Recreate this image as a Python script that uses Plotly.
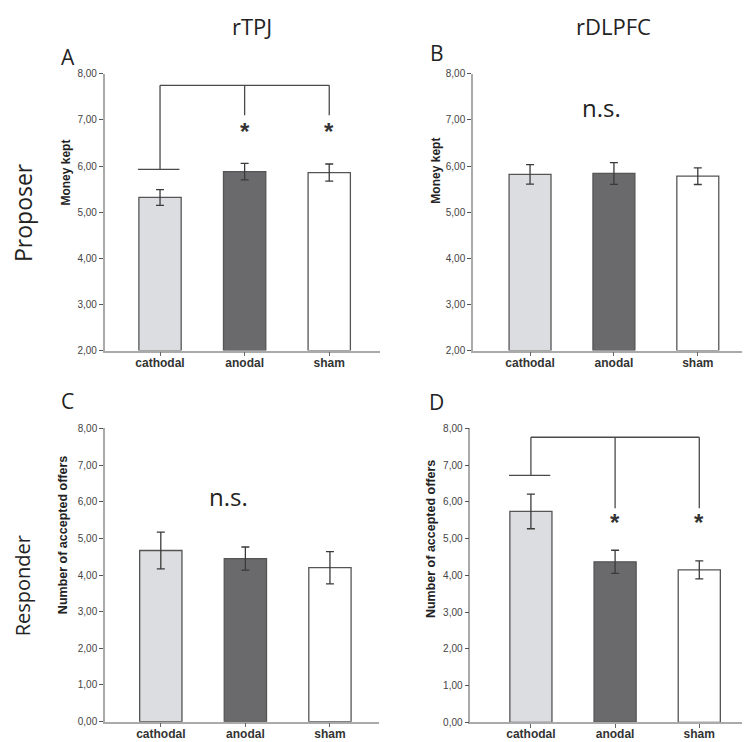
import plotly.graph_objects as go

# ---------------- data ----------------
conditions = ["cathodal", "anodal", "sham"]
bar_colors = ["#dcdde1", "#6a6a6d", "#ffffff"]

# A: rTPJ - Proposer (money kept)
rtpj_proposer_mean = [5.32, 5.88, 5.86]
rtpj_proposer_err = [0.17, 0.18, 0.185]
# B: rDLPFC - Proposer (money kept)
rdlpfc_proposer_mean = [5.82, 5.84, 5.78]
rdlpfc_proposer_err = [0.21, 0.235, 0.18]
# C: rTPJ - Responder (number of accepted offers)
rtpj_responder_mean = [4.67, 4.45, 4.20]
rtpj_responder_err = [0.50, 0.315, 0.44]
# D: rDLPFC - Responder (number of accepted offers)
rdlpfc_responder_mean = [5.74, 4.37, 4.15]
rdlpfc_responder_err = [0.47, 0.315, 0.245]

proposer_ticks = [2, 3, 4, 5, 6, 7, 8]
responder_ticks = [0, 1, 2, 3, 4, 5, 6, 7, 8]

# significance brackets (levels on the value axis)
bracket_A = dict(top=7.75, cathodal_leg=5.93, other_legs=7.10, star=6.69)
bracket_D = dict(top=7.76, cathodal_leg=6.72, other_legs=5.83, star=5.37)

W, H = 750, 742


def px_x(x):
    return x / W


def px_y(y):
    return 1 - y / H


panels = [
    dict(key="", mean=rtpj_proposer_mean, err=rtpj_proposer_err, ticks=proposer_ticks,
         xdom=(96.7, 372), ydom=(61.7, 342.7), xr=(-0.654, 2.60), yr=(2, 8)),
    dict(key="2", mean=rdlpfc_proposer_mean, err=rdlpfc_proposer_err, ticks=proposer_ticks,
         xdom=(465, 746), ydom=(61.7, 342.7), xr=(-0.68, 2.67), yr=(2, 8)),
    dict(key="3", mean=rtpj_responder_mean, err=rtpj_responder_err, ticks=responder_ticks,
         xdom=(97, 371), ydom=(421.7, 719.3), xr=(-0.66, 2.58), yr=(0, 8)),
    dict(key="4", mean=rdlpfc_responder_mean, err=rdlpfc_responder_err, ticks=responder_ticks,
         xdom=(462.3, 746), ydom=(421.7, 720), xr=(-0.72, 2.65), yr=(0, 8)),
]

fig = go.Figure()
xs = list(range(len(conditions)))
layout = dict(width=W, height=H, margin=dict(l=0, r=0, t=0, b=0),
              plot_bgcolor="white", paper_bgcolor="white", showlegend=False,
              separators=",.")

for p in panels:
    k = p["key"]
    fig.add_trace(go.Bar(
        x=xs, y=[m - p["yr"][0] for m in p["mean"]], base=p["yr"][0], width=0.5,
        marker=dict(color=bar_colors, line=dict(color="#555555", width=1.3)),
        error_y=dict(type="data", array=p["err"], color="#3a3a3a", thickness=1.3, width=4),
        xaxis="x" + k, yaxis="y" + k, hoverinfo="skip"))
    layout["xaxis" + k] = dict(
        domain=[px_x(p["xdom"][0]), px_x(p["xdom"][1])], range=list(p["xr"]),
        anchor="y" + k, tickvals=xs, ticktext=conditions, ticks="outside", ticklen=4,
        tickcolor="#666666", tickwidth=1.2, showline=True, linecolor="#aaaaaa", linewidth=1.5,
        showgrid=False, zeroline=False, ticklabelstandoff=-4,
        tickfont=dict(family="Liberation Sans", size=12, color="#333333", weight="bold"))
    layout["yaxis" + k] = dict(
        domain=[px_y(p["ydom"][1]), px_y(p["ydom"][0])], range=list(p["yr"]),
        anchor="x" + k, tickvals=p["ticks"], tickformat=".2f", ticks="outside", ticklen=4,
        tickcolor="#555555", tickwidth=1.2, showline=True, linecolor="#aaaaaa", linewidth=1.5,
        showgrid=False, zeroline=False, ticklabelstandoff=0,
        tickfont=dict(family="Liberation Sans", size=10, color="#444444"))

fig.update_layout(**layout)

# significance brackets
def add_bracket(xref, yref, b):
    line = dict(color="#4a4a4a", width=1.3)
    common = dict(xref=xref, yref=yref, layer="above", line=line, type="line")
    fig.add_shape(x0=xs[0], x1=xs[2], y0=b["top"], y1=b["top"], **common)
    fig.add_shape(x0=xs[0], x1=xs[0], y0=b["top"], y1=b["cathodal_leg"], **common)
    fig.add_shape(x0=xs[0] - 0.26, x1=xs[0] + 0.23, y0=b["cathodal_leg"], y1=b["cathodal_leg"], **common)
    for xi in xs[1:]:
        fig.add_shape(x0=xi, x1=xi, y0=b["top"], y1=b["other_legs"], **common)
        fig.add_annotation(x=xi, y=b["star"], xref=xref, yref=yref, text="*", showarrow=False,
                           yshift=3, font=dict(family="Liberation Sans", size=24,
                                               color="#333333", weight="bold"))

add_bracket("x", "y", bracket_A)
add_bracket("x4", "y4", bracket_D)

def label(text, x, y, size, angle=0, family="Open Sans", weight="normal", color="#222222"):
    fig.add_annotation(x=px_x(x), y=px_y(y), xref="paper", yref="paper", text=text,
                       showarrow=False, textangle=angle, xanchor="center", yanchor="middle",
                       font=dict(family=family, size=size, color=color, weight=weight))

label("rTPJ", 244, 13, 22)
label("rDLPFC", 605.5, 13, 22)
label("A", 59.5, 45, 21)
label("B", 429, 41, 21)
label("C", 59, 394, 21)
label("D", 429, 395, 21)
label("Proposer", 15, 203, 23, angle=-90)
label("Responder", 14, 582, 20, angle=-90)
label("n.s.", 593, 96, 24)
label("n.s.", 220, 491, 24)
label("Money kept", 58, 162, 12, angle=-90, family="Liberation Sans", weight="bold")
label("Money kept", 428, 160, 12, angle=-90, family="Liberation Sans", weight="bold")
label("Number of accepted offers", 55, 530, 12.5, angle=-90, family="Liberation Sans", weight="bold")
label("Number of accepted offers", 423, 534, 12.5, angle=-90, family="Liberation Sans", weight="bold")

fig.write_html("out.html")
